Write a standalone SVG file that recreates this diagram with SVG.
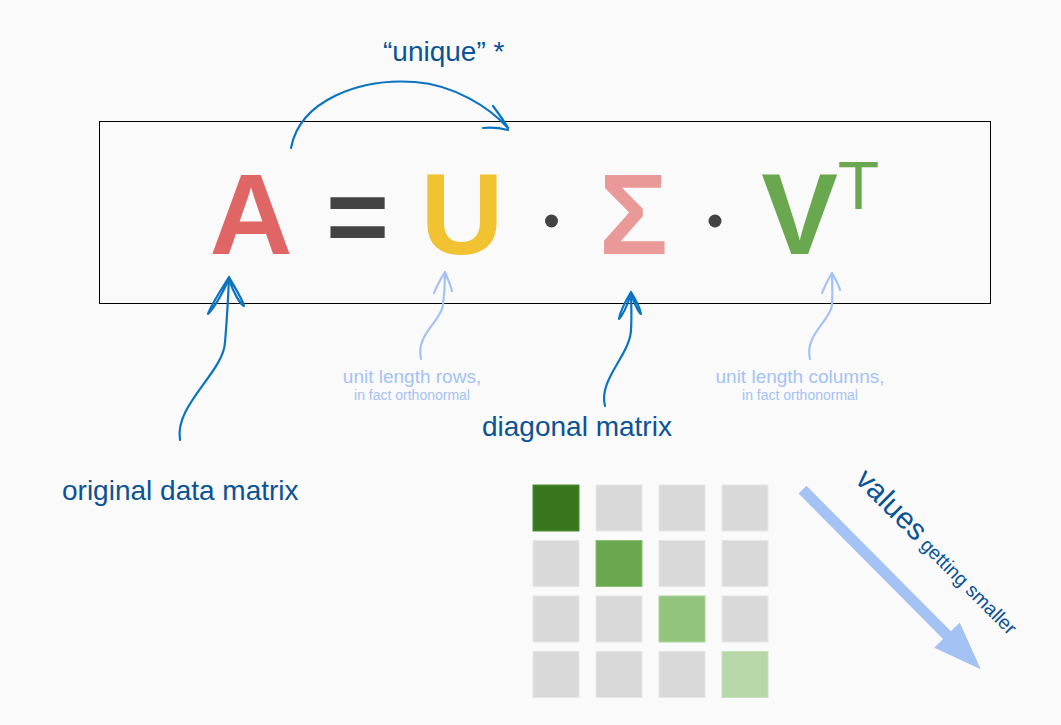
<svg xmlns="http://www.w3.org/2000/svg" width="1061" height="725" viewBox="0 0 1061 725">
<style>
.sym{font-family:"Liberation Sans",Arial,sans-serif;font-weight:bold;font-size:115px;text-anchor:middle}
.lbl{font-family:"Liberation Sans",Arial,sans-serif;fill:#0b5394;font-size:28px}
.hint{font-family:"Liberation Sans",Arial,sans-serif;fill:#a4c2f4;text-anchor:middle}
.dk{fill:none;stroke:#0b74c0;stroke-width:2.2;stroke-linecap:round;stroke-linejoin:round}
.lt{fill:none;stroke:#a4c2f4;stroke-width:2.2;stroke-linecap:round;stroke-linejoin:round}
.cell{fill:#d9d9d9;stroke:#e6e6e6;stroke-width:1}
</style>
<rect width="1061" height="725" fill="#fafafa"/>
<g id="equation">
<rect x="99.5" y="121.5" width="891" height="182" fill="none" stroke="#000" stroke-width="1"/>
<text class="sym" x="251" y="254" fill="#e06666">A</text>
<text class="sym" x="357.5" y="253" fill="#434343" style="font-size:108px">=</text>
<text class="sym" x="462" y="254" fill="#f1c232">U</text>
<circle cx="551.5" cy="221" r="6.5" fill="#434343"/>
<text class="sym" x="633.5" y="254" fill="#ea9999">Σ</text>
<circle cx="715" cy="221" r="6.5" fill="#434343"/>
<text class="sym" x="799.5" y="254" fill="#6aa84f">V</text>
<text x="858.5" y="209" fill="#6aa84f" font-family="Liberation Sans,Arial,sans-serif" font-size="68" text-anchor="middle">T</text>
</g>
<g id="label-unique"><text class="lbl" x="383" y="61">“unique” *</text></g>
<g id="label-original"><text class="lbl" x="62" y="500">original data matrix</text></g>
<g id="label-diagonal"><text class="lbl" x="482" y="436">diagonal matrix</text></g>
<g id="label-rows">
<text class="hint" x="412" y="383" font-size="19">unit length rows,</text>
<text class="hint" x="412" y="400" font-size="14">in fact orthonormal</text>
</g>
<g id="label-columns">
<text class="hint" x="800" y="383" font-size="19">unit length columns,</text>
<text class="hint" x="800" y="400" font-size="14">in fact orthonormal</text>
</g>
<g id="connectors">
<path class="dk" d="M291,148 C300,100 360,78 415,82 C455,85 490,108 508,128"/>
<path class="dk" d="M493,106 C499,114 504,121 508,128 M483,128 C492,127 500,128 508,130"/>
<path class="dk" d="M180,440 C174,405 224,372 225,342 C227,320 228,300 229,278"/>
<path class="dk" d="M229,277 C221,290 211,305 208,314 C213,309 222,294 229,279 M229,277 C235,288 243,300 244,306 C240,304 233,292 229,279"/>
<path class="dk" d="M605,406 C598,380 630,355 631,330 C632,315 631,303 631,293"/>
<path class="dk" d="M631,292 C625,302 620,312 619,319 C623,315 628,303 631,294 M631,292 C636,300 640,308 641,314 C638,312 634,302 631,294"/>
<path class="lt" d="M421,359 C415,335 442,320 443,305 C445,290 445,282 445,273"/>
<path class="lt" d="M445,272 C440,280 436,288 434,293 M445,272 C448,280 451,286 452,291"/>
<path class="lt" d="M810,359 C804,335 831,320 832,305 C833,290 832,282 832,274"/>
<path class="lt" d="M832,273 C827,281 824,288 822,293 M832,273 C836,280 839,286 840,290"/>
</g>
<g id="sigma-grid">
<rect class="cell" x="533" y="485" width="46" height="46" style="fill:#38761d;stroke:#4f8a35"/>
<rect class="cell" x="596" y="485" width="46" height="46"/>
<rect class="cell" x="659" y="485" width="46" height="46"/>
<rect class="cell" x="722" y="485" width="46" height="46"/>
<rect class="cell" x="533" y="540.5" width="46" height="46"/>
<rect class="cell" x="596" y="540.5" width="46" height="46" style="fill:#6aa84f;stroke:#8cc072"/>
<rect class="cell" x="659" y="540.5" width="46" height="46"/>
<rect class="cell" x="722" y="540.5" width="46" height="46"/>
<rect class="cell" x="533" y="596" width="46" height="46"/>
<rect class="cell" x="596" y="596" width="46" height="46"/>
<rect class="cell" x="659" y="596" width="46" height="46" style="fill:#93c47d;stroke:#acd49a"/>
<rect class="cell" x="722" y="596" width="46" height="46"/>
<rect class="cell" x="533" y="651.5" width="46" height="46"/>
<rect class="cell" x="596" y="651.5" width="46" height="46"/>
<rect class="cell" x="659" y="651.5" width="46" height="46"/>
<rect class="cell" x="722" y="651.5" width="46" height="46" style="fill:#b6d7a8;stroke:#c8e2bd"/>
</g>
<g id="trend-arrow">
<polygon transform="translate(802.5,489.7) rotate(45.2)" points="0,-5.5 205,-5.5 205,-18 253,0 205,18 205,5.5 0,5.5" fill="#a4c2f4"/>
<text transform="translate(854,481) rotate(45)" font-family="Liberation Sans,Arial,sans-serif" fill="#0b5394"><tspan font-size="30">values</tspan><tspan font-size="19.5"> getting smaller</tspan></text>
</g>
</svg>
